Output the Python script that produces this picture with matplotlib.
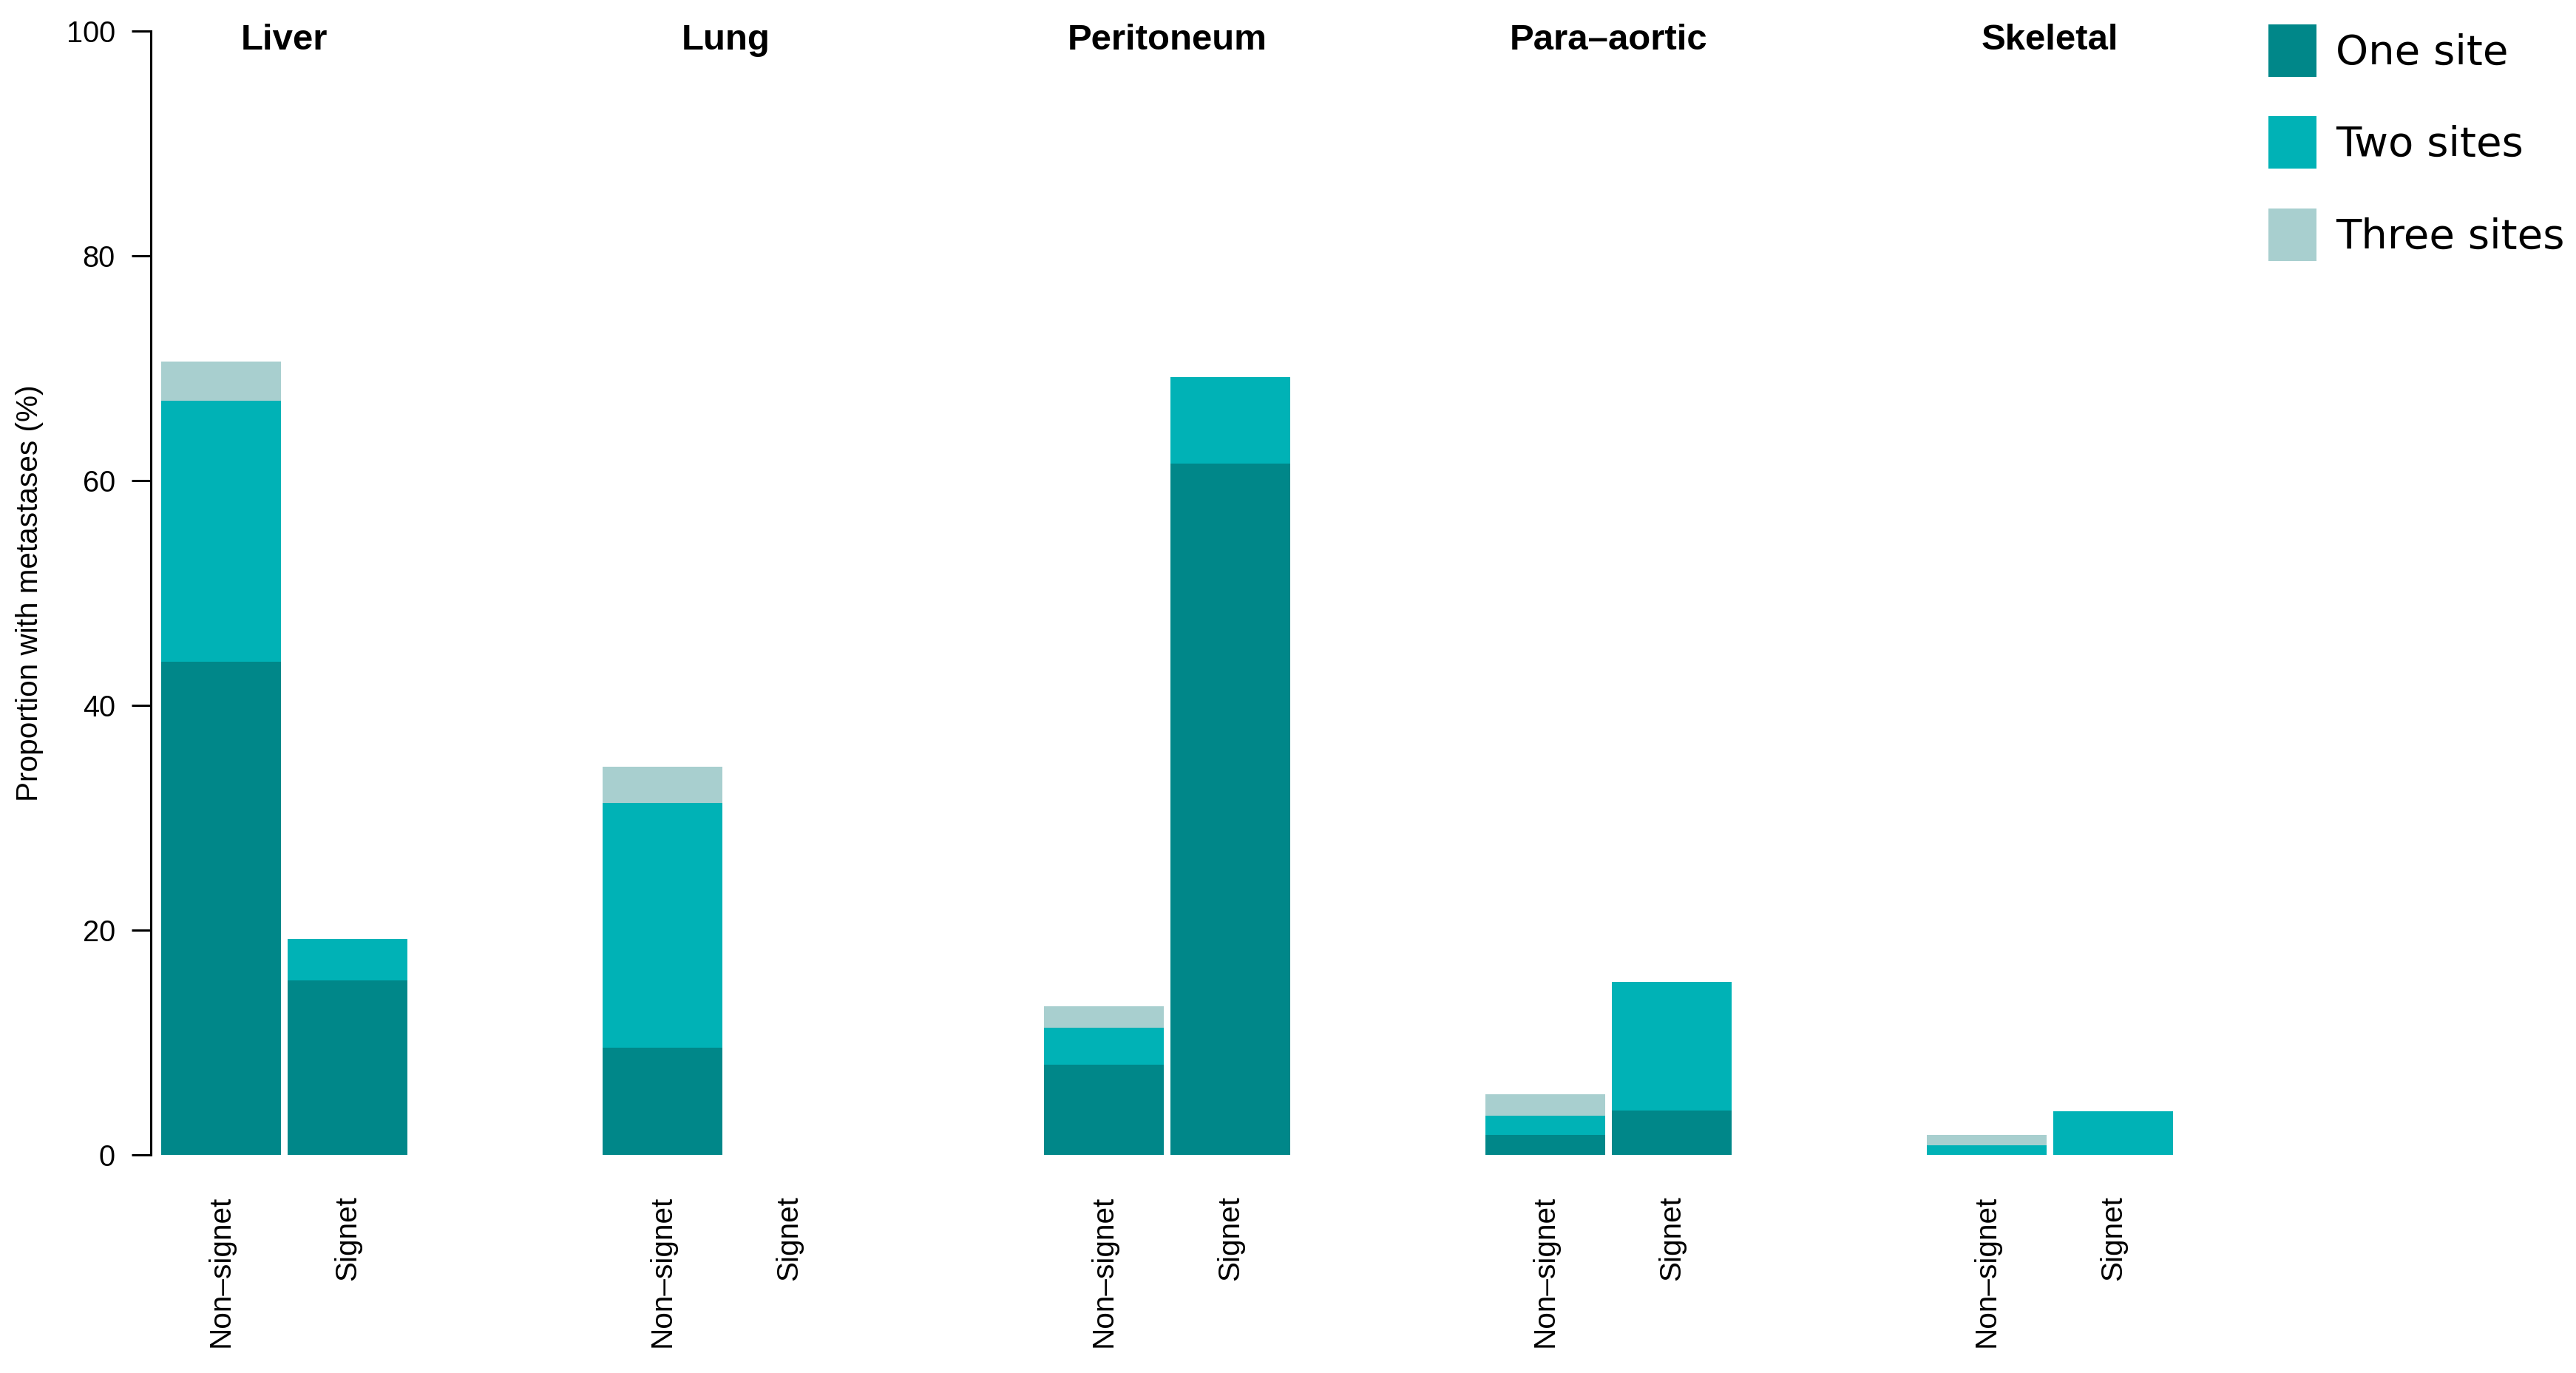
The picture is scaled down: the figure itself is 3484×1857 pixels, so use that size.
import matplotlib
matplotlib.use("Agg")
import matplotlib.pyplot as plt
from matplotlib.patches import Patch
import numpy as np

sites = ["Liver", "Lung", "Peritoneum", "Para\u2013aortic", "Skeletal"]
subtypes = ["Non\u2013signet", "Signet"]
series = ["One site", "Two sites", "Three sites"]

# segment values, per site: [non-signet, signet]
one_site = [[43.9, 15.5], [9.5, 0.0], [8.0, 61.5], [1.75, 3.9], [0.0, 0.0]]
two_sites = [[23.2, 3.7], [21.8, 0.0], [3.3, 7.7], [1.7, 11.5], [0.8, 3.85]]
three_sites = [[3.5, 0.0], [3.2, 0.0], [1.9, 0.0], [1.95, 0.0], [0.95, 0.0]]

colors = ["#008789", "#00B2B6", "#A8CFCF"]

plt.rcParams['font.family'] = ['Liberation Sans', 'DejaVu Sans']

fig = plt.figure(figsize=(17.42, 9.285), dpi=200)
ax = fig.add_axes([92/1568, 1 - 703/836, 1254/1568, (703 - 19)/836])

group_step = 268.7/73
inner_step = 77/73

xs, labels = [], []
for g in range(len(sites)):
    for j in range(2):
        x = g*group_step + j*inner_step
        xs.append(x)
        labels.append(subtypes[j])
        bottom = 0
        for k, data in enumerate([one_site, two_sites, three_sites]):
            v = data[g][j]
            if v > 0:
                ax.bar(x, v, width=1.0, bottom=bottom, color=colors[k],
                       edgecolor='none', linewidth=0)
            bottom += v
    ax.text(g*group_step + inner_step/2, 99.2, sites[g], ha='center', va='center',
            fontsize=17.7, fontweight='bold')

ax.set_xlim(-0.5 - 6/73, -0.5 + 1248/73)
ax.set_ylim(0, 100)
ax.set_yticks([0, 20, 40, 60, 80, 100])
ax.tick_params(axis='y', length=9.5, width=1.1, labelsize=14.3, pad=8)
ax.set_xticks(xs)
ax.set_xticklabels(labels, rotation=90, fontsize=14.6, va='top')
ax.tick_params(axis='x', length=0, pad=20)
for s in ['top', 'right', 'bottom']:
    ax.spines[s].set_visible(False)
ax.spines['left'].set_linewidth(1.1)
ax.set_ylabel("Proportion with metastases (%)", fontsize=14.6, labelpad=11)

handles = [Patch(facecolor=c, edgecolor='none') for c in colors]
fig.legend(handles, series, loc='upper left',
           bbox_to_anchor=(3068/3484, 1 - 33/1857),
           frameon=False, prop={'family': 'DejaVu Sans', 'size': 20.2},
           handlelength=1.15, handleheight=1.57, handletextpad=0.48,
           labelspacing=0.95, borderpad=0, borderaxespad=0)

fig.savefig("out.png", dpi=200, facecolor='white')
